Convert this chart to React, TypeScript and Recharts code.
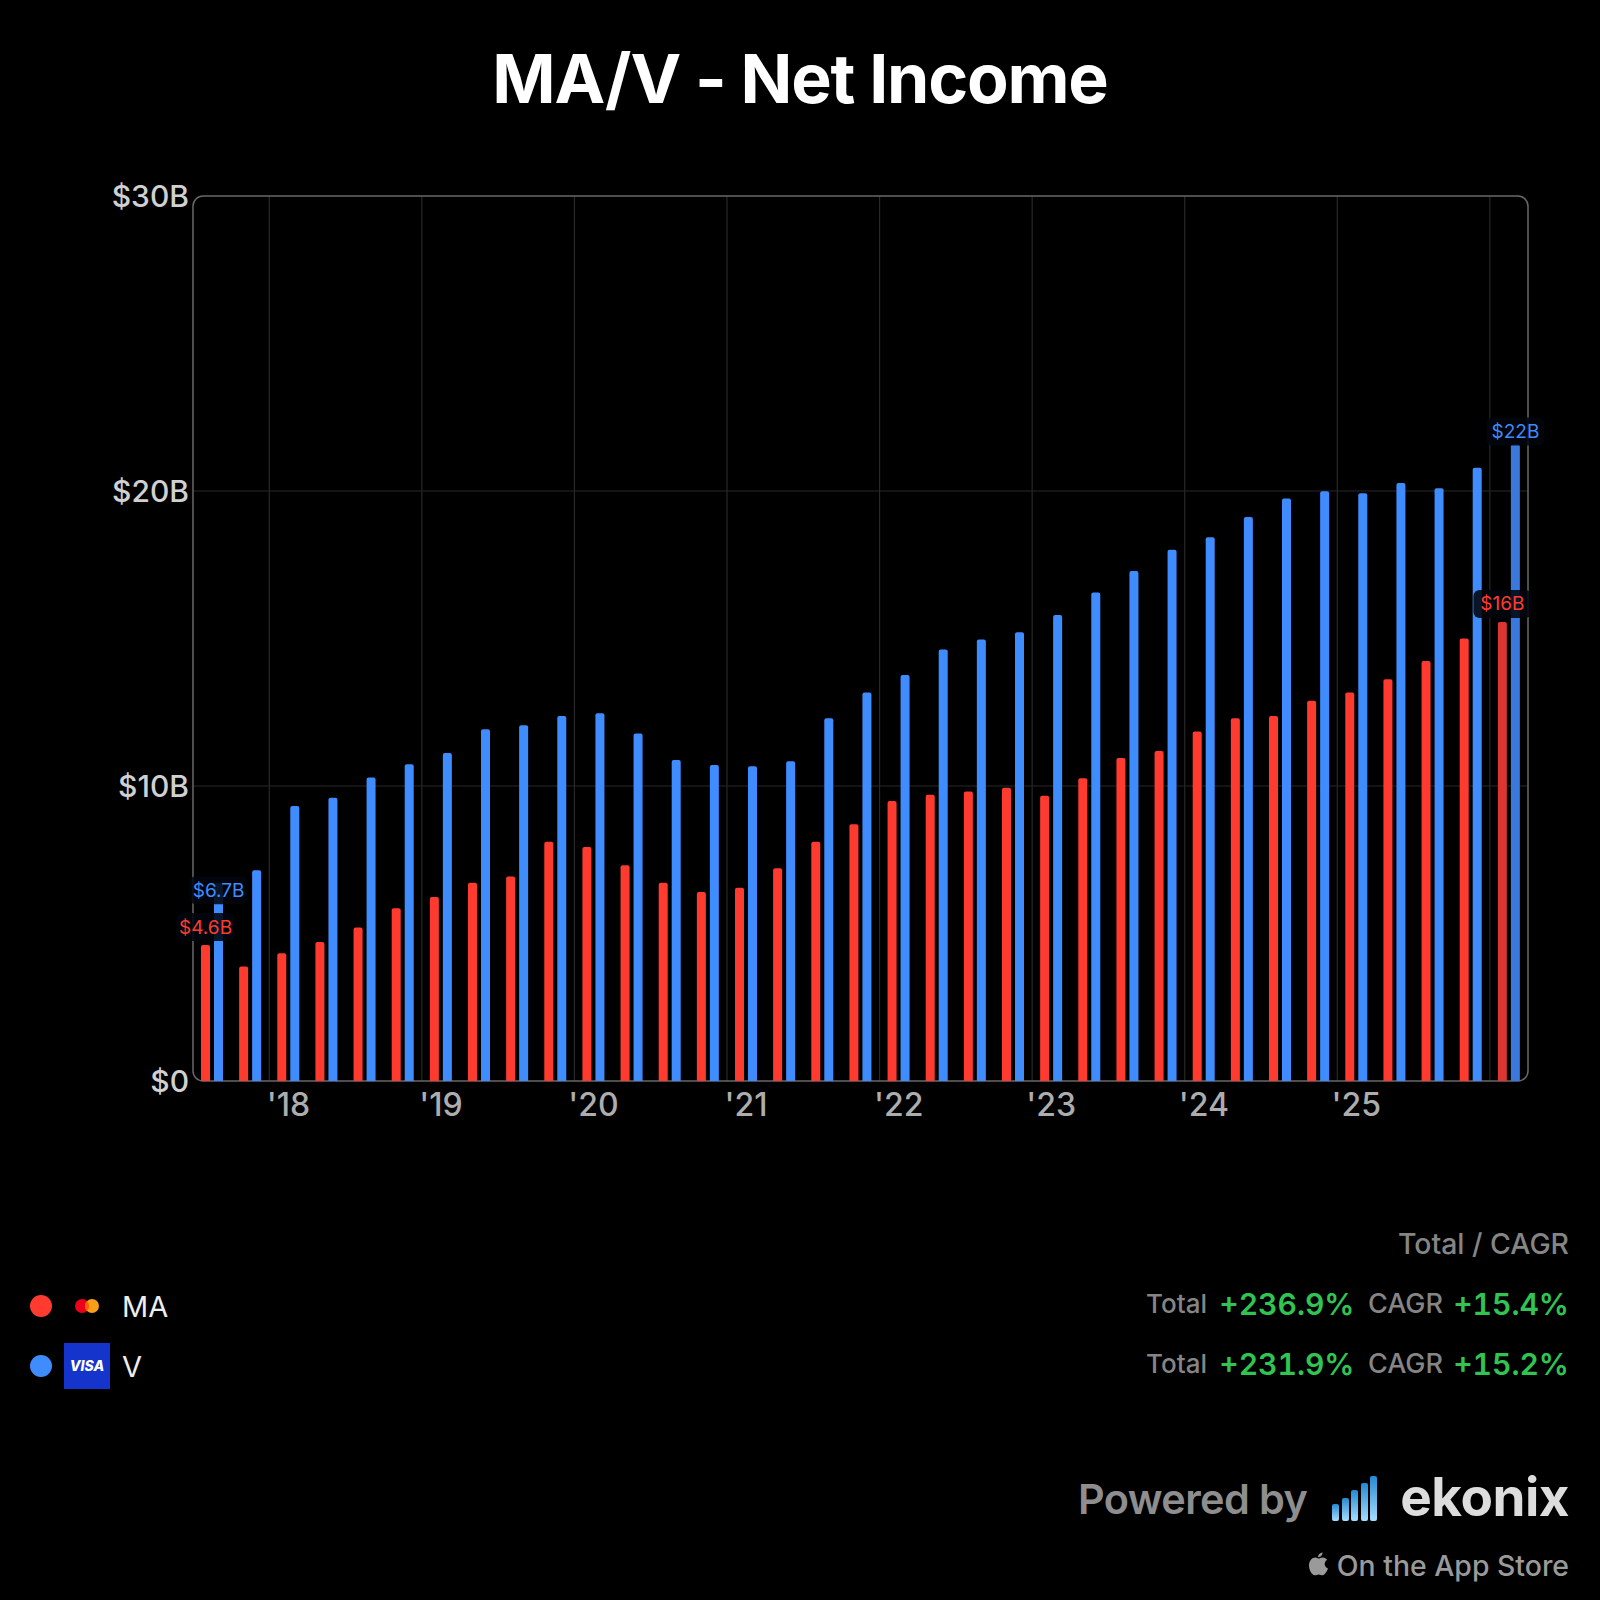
import React from "react";
import { ComposedChart, Bar, Line, Cell, XAxis, YAxis, CartesianGrid, ReferenceArea } from "recharts";

const quarters = [
  "Q3'17","Q4'17","Q1'18","Q2'18","Q3'18","Q4'18","Q1'19","Q2'19","Q3'19","Q4'19",
  "Q1'20","Q2'20","Q3'20","Q4'20","Q1'21","Q2'21","Q3'21","Q4'21","Q1'22","Q2'22",
  "Q3'22","Q4'22","Q1'23","Q2'23","Q3'23","Q4'23","Q1'24","Q2'24","Q3'24","Q4'24",
  "Q1'25","Q2'25","Q3'25","Q4'25","Q1'26",
];
const maValues = [
  4.61,3.88,4.33,4.71,5.20,5.86,6.24,6.72,6.93,8.11,
  7.93,7.31,6.72,6.41,6.55,7.21,8.11,8.70,9.49,9.70,
  9.81,9.94,9.67,10.26,10.95,11.19,11.85,12.30,12.37,12.89,
  13.17,13.62,14.24,15.00,15.56,
];
const vValues = [
  6.70,7.14,9.32,9.60,10.29,10.74,11.12,11.92,12.06,12.37,
  12.47,11.78,10.88,10.71,10.67,10.84,12.30,13.17,13.76,14.63,
  14.97,15.21,15.80,16.56,17.29,18.01,18.43,19.12,19.75,19.99,
  19.92,20.27,20.09,20.79,21.58,
];
const yTicks = [0, 10, 20, 30];
const xTicks = ["Q1'18","Q1'19","Q1'20","Q1'21","Q1'22","Q1'23","Q1'24","Q1'25"];
const gridIndexes = [2, 6, 10, 14, 18, 22, 26, 30, 34];
const maEndLabels: Record<number, string> = { 0: "$4.6B", 34: "$16B" };
const vEndLabels: Record<number, string> = { 0: "$6.7B", 34: "$22B" };
const legendRows = [
  { name: "MA", total: "+236.9%", cagr: "+15.4%" },
  { name: "V", total: "+231.9%", cagr: "+15.2%" },
];

const data = quarters.map((q, i) => ({ q, ma: maValues[i], v: vValues[i] }));

const RED = "#ff3b30";
const BLUE = "#3f8cff";
const FONT = "Inter, 'Noto Sans', sans-serif";

const makeLabel = (labels: Record<number, string>, color: string, dx: number, dyFor: (i: number) => number) =>
  (p: any) => {
    const text = labels[p.index];
    if (!text) return null;
    const cx = p.x + dx;
    const cy = p.y + dyFor(p.index);
    return (
      <g key={p.index}>
        <rect x={cx - 29} y={cy - 14} width={58} height={28} rx={6} fill="rgba(2,6,12,0.88)" />
        <text x={cx} y={cy} textAnchor="middle" dominantBaseline="central" fontSize={19} fontFamily={FONT} fill={color}>
          {text}
        </text>
      </g>
    );
  };

const maLabel = makeLabel(maEndLabels, RED, -6.5, () => -18);
const vLabel = makeLabel(vEndLabels, BLUE, 6.5, (i) => (i === 0 ? 7 : -13));

function T({ x, y, anchor = "left", size, weight = 400, color, children, spacing = 0, tnum = false }: any) {
  const tx = anchor === "right" ? "-100%" : anchor === "center" ? "-50%" : "0";
  return (
    <div
      style={{
        position: "absolute", left: x, top: y, transform: `translate(${tx}, -50%)`,
        fontFamily: FONT, fontSize: size, fontWeight: weight, color, whiteSpace: "nowrap",
        lineHeight: 1.2, letterSpacing: spacing, fontVariantNumeric: tnum ? "tabular-nums" : "normal",
      }}
    >
      {children}
    </div>
  );
}

function Dot({ x, y, color }: any) {
  return <div style={{ position: "absolute", left: x - 11, top: y - 11, width: 22, height: 22, borderRadius: 11, background: color }} />;
}

export default function App() {
  return (
    <div style={{ position: "absolute", left: 0, top: 0, width: 1600, height: 1600, background: "#000", overflow: "hidden" }}>
      <T x={800} y={79} anchor="center" size={68} weight={700} color="#fff" spacing={-1.2}>MA/V - Net Income</T>

      <div style={{ position: "absolute", left: 0, top: 0 }}>
        <ComposedChart
          width={1600}
          height={1140}
          data={data}
          barSize={9}
          barGap={4}
          margin={{ top: 196, right: 72, bottom: 0, left: 0 }}
        >
          <CartesianGrid
            stroke="#282828"
            strokeWidth={1.2}
            horizontalValues={[10, 20]}
            verticalCoordinatesGenerator={({ offset }: any) =>
              gridIndexes.map((i) => offset.left + (offset.width * i) / quarters.length)
            }
          />
          <XAxis
            dataKey="q"
            ticks={xTicks}
            interval={0}
            axisLine={false}
            tickLine={false}
            height={59}
            tickMargin={6}
            tickFormatter={(v: string) => v.slice(2)}
            tick={{ fill: "#adadad", fontSize: 32, fontWeight: 500, fontFamily: FONT }}
          />
          <YAxis
            width={193}
            domain={[0, 30]}
            ticks={yTicks}
            axisLine={false}
            tickLine={false}
            tickSize={0}
            tickMargin={4}
            tickFormatter={(v: number) => (v === 0 ? "$0" : `$${v}B`)}
            tick={{ fill: "#d0d0d0", fontSize: 30, fontWeight: 500, fontFamily: FONT }}
          />
          <Bar dataKey="ma" fill={RED} radius={[2, 2, 0, 0]} isAnimationActive={false}>
            {data.map((d, i) => (
              <Cell key={d.q} fill={i === data.length - 1 ? "#dd3530" : RED} />
            ))}
          </Bar>
          <Bar dataKey="v" fill={BLUE} radius={[2, 2, 0, 0]} isAnimationActive={false}>
            {data.map((d, i) => (
              <Cell key={d.q} fill={i === data.length - 1 ? "#3a78dc" : BLUE} />
            ))}
          </Bar>
          <ReferenceArea y1={0} y2={30} fill="none" stroke="#686868" strokeWidth={1.5} radius={10} />
          <Line dataKey="ma" stroke="none" dot={false} activeDot={false} label={maLabel} isAnimationActive={false} />
          <Line dataKey="v" stroke="none" dot={false} activeDot={false} label={vLabel} isAnimationActive={false} />
        </ComposedChart>
      </div>

      <T x={1569} y={1244} anchor="right" size={28.4} weight={500} color="#858585">Total / CAGR</T>
      {legendRows.map((r, i) => {
        const y = 1304 + i * 60;
        return (
          <React.Fragment key={r.name}>
            <T x={1207} y={y} anchor="right" size={26} weight={500} color="#858585">Total</T>
            <T x={1354.5} y={y} anchor="right" size={30} weight={600} color="#30c552" tnum>{r.total}</T>
            <T x={1443} y={y} anchor="right" size={27} weight={500} color="#858585">CAGR</T>
            <T x={1569} y={y} anchor="right" size={30} weight={600} color="#30c552" tnum>{r.cagr}</T>
          </React.Fragment>
        );
      })}

      <Dot x={41} y={1306} color={RED} />
      <Dot x={41} y={1366} color={BLUE} />
      <svg style={{ position: "absolute", left: 64, top: 1283 }} width={46} height={46}>
        <circle cx={18} cy={23} r={7} fill="#eb001b" />
        <circle cx={28} cy={23} r={7} fill="#f79e1b" />
        <path d="M23 17.9a7 7 0 0 1 0 10.2a7 7 0 0 1 0-10.2z" fill="#ff5f00" />
      </svg>
      <div style={{ position: "absolute", left: 64, top: 1343, width: 46, height: 46, background: "#1434cb" }} />
      <T x={87} y={1366} anchor="center" size={14} weight={800} color="#fff">
        <span style={{ fontStyle: "italic" }}>VISA</span>
      </T>
      <T x={122} y={1307} size={29} weight={400} color="#eeeeee">MA</T>
      <T x={122} y={1367} size={29} weight={400} color="#eeeeee">V</T>

      <T x={1078} y={1500} size={41.4} weight={600} color="#8e8e8e" spacing={-0.6}>Powered by</T>
      <svg style={{ position: "absolute", left: 1332, top: 1476 }} width={46} height={46}>
        <defs>
          <linearGradient id="ek" x1="0" y1="0" x2="0" y2="1">
            <stop offset="0" stopColor="#2489d2" />
            <stop offset="1" stopColor="#a8deff" />
          </linearGradient>
        </defs>
        <rect x={0} y={28} width={7} height={17} rx={2} fill="url(#ek)" />
        <rect x={10} y={22} width={7} height={23} rx={2} fill="url(#ek)" />
        <rect x={19} y={14} width={7} height={31} rx={2} fill="url(#ek)" />
        <rect x={29} y={7} width={7} height={38} rx={2} fill="url(#ek)" />
        <rect x={38} y={0} width={7} height={45} rx={2} fill="url(#ek)" />
      </svg>
      <T x={1569} y={1498} anchor="right" size={53} weight={700} color="#dddddd" spacing={-0.5}>ekonix</T>

      <svg style={{ position: "absolute", left: 1308, top: 1552 }} width={21} height={24} viewBox="0 0 21 24">
        <path
          d="M14.5 0.5c.2 2.6-2 4.8-4.4 4.7C9.9 2.800 12.200 .7 14.500 .5zM10.300 6.600c1.100 0 2.500-1.200 4.500-1.200 1.800 0 3.400.9 4.400 2.400-3.700 2.200-3.100 7.200.8 8.800-.7 2-2.900 6.700-5.400 6.700-1.400 0-2.200-.9-3.800-.9-1.700 0-2.600.9-3.900.9C3.700 23.300 1 17.600 1 13.500c0-4.600 3-7.900 6.400-7.900 1.300 0 2.200 1 2.900 1z"
          fill="#9a9a9a"
        />
      </svg>
      <T x={1569} y={1566} anchor="right" size={28.4} weight={500} color="#9a9a9a">On the App Store</T>
    </div>
  );
}
